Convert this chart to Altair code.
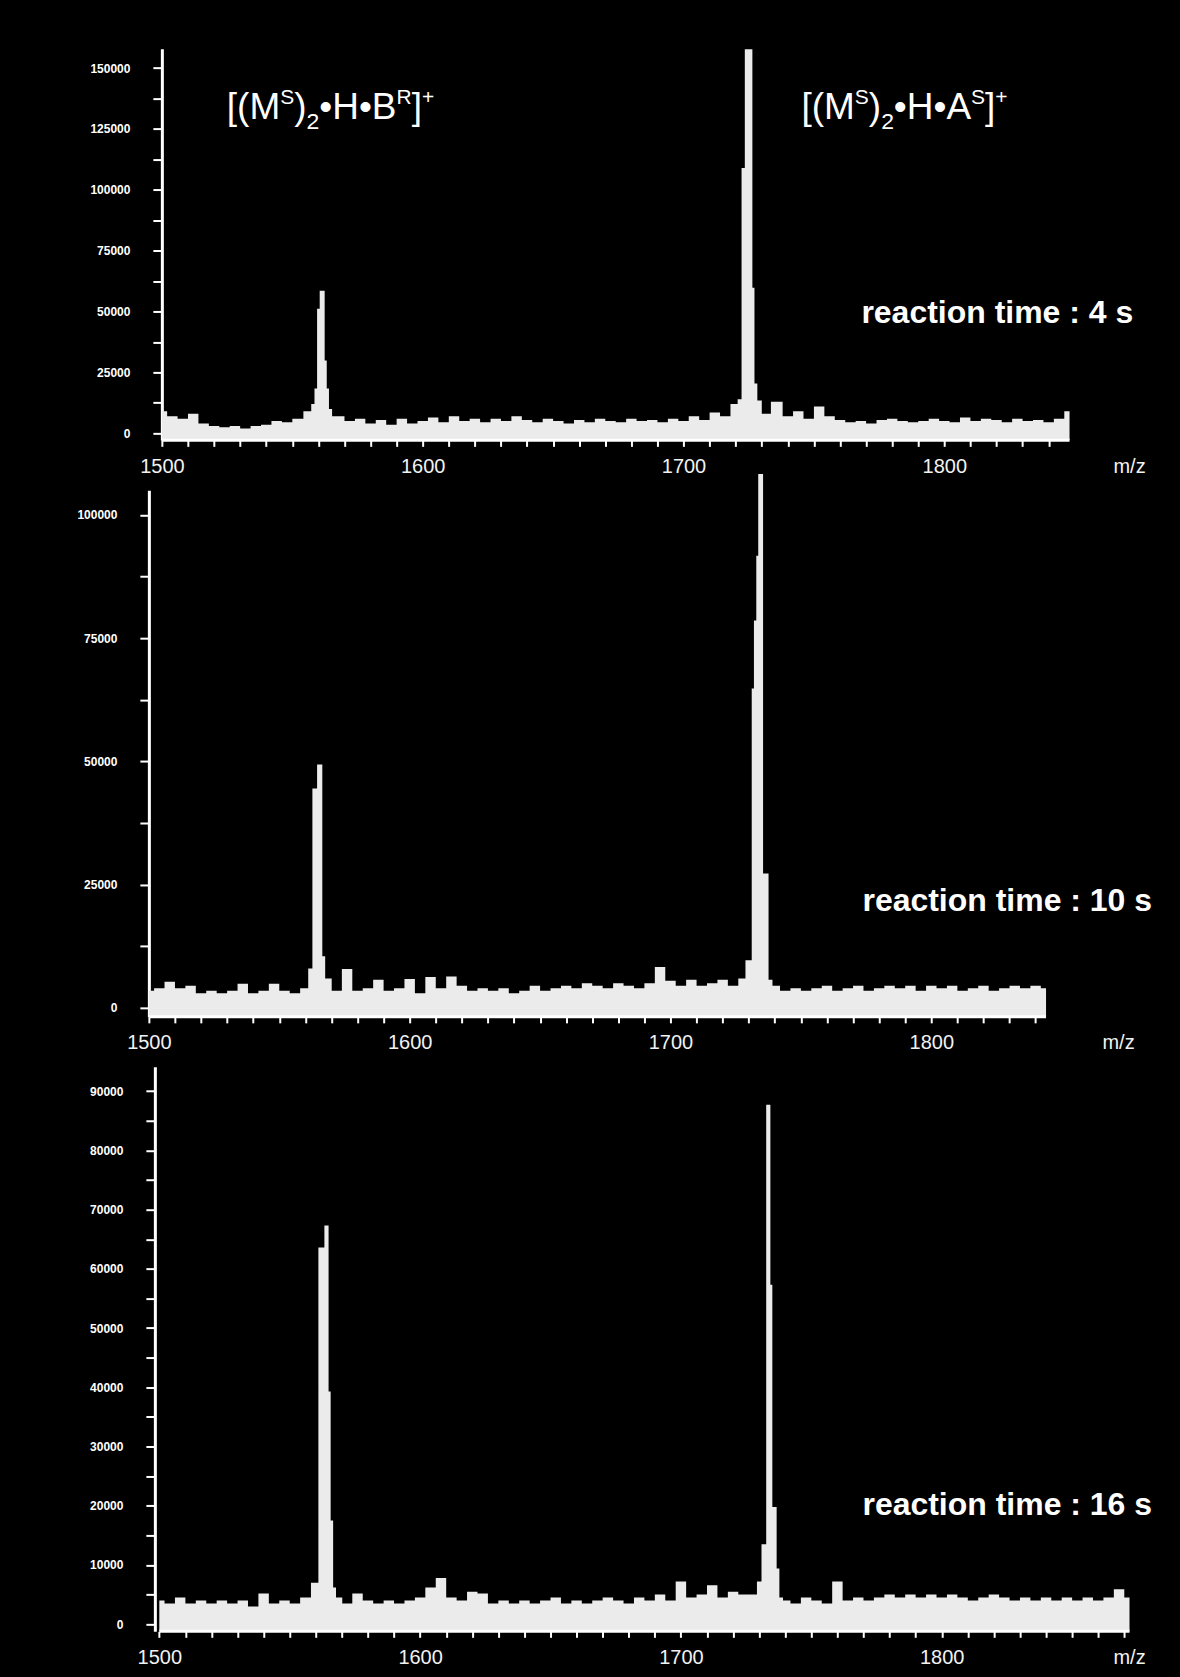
import altair as alt
import pandas as pd

# ---------------- data ----------------
# baseline noise envelope, sampled every 4 m/z from 1500, in thousands of counts
NOISE_START = 1500
NOISE_STEP = 4

P1_NOISE_K = [9, 7, 6, 8, 4, 3, 2.5, 3, 2, 3,
              3.5, 5, 4.5, 6, 8, 12, 11, 7, 5, 6,
              4, 5.5, 3.5, 6, 4, 5, 6.5, 4.5, 7, 5,
              6, 4.5, 6, 5, 7, 5.5, 4.5, 6, 5, 4,
              5.5, 4.5, 6, 5, 4.5, 6, 5, 5.5, 4.5, 6,
              5, 7, 5.5, 8.5, 7, 12, 14, 12, 9, 13,
              7, 9, 6, 11, 7, 5.5, 4.5, 5, 4, 5.5,
              6, 5, 4.5, 5, 6, 5, 4.5, 6.5, 5, 6,
              5.5, 4.5, 6, 5, 5.5, 4.5, 6, 9]
P1_PEAK_B_MZ = [1556.5, 1558.0, 1559.0, 1560.0, 1561.0, 1562.0, 1562.8, 1563.6, 1564.5, 1566.0]
P1_PEAK_B_I = [9000, 12000, 18400, 51200, 58600, 58600, 29900, 18400, 10000, 7000]
P1_PEAK_A_MZ = [1720.0, 1721.5, 1723.0, 1724.0, 1725.0, 1726.0, 1726.8, 1727.6, 1729.0, 1731.0]
P1_PEAK_A_I = [12000, 14000, 109000, 157800, 157800, 157800, 59800, 20500, 13500, 8000]

P2_NOISE_K = [3.5, 4, 5.3, 4, 4.5, 3, 3.5, 3, 3.5, 4.9,
              3, 3.5, 4.9, 3.5, 3, 4, 4, 4.5, 3.5, 7.9,
              3.5, 4, 5.7, 3.5, 4, 5.9, 3, 6.3, 4, 6.4,
              4.5, 3.5, 4, 3.5, 4, 3, 3.5, 4.5, 3.5, 4,
              4.5, 4, 5, 4.5, 4, 5, 4.5, 4, 5, 8.3,
              5.5, 4.5, 5.7, 4.5, 5, 5.7, 4.5, 6, 6, 6,
              4.5, 3.5, 4, 3.5, 4, 4.5, 3.5, 4, 4.5, 3.5,
              4, 4.5, 4, 4.5, 3.5, 4.5, 4, 4.5, 3.5, 4,
              4.5, 3.5, 4, 4.5, 4, 4.5, 4]
P2_PEAK_B_MZ = [1562.2, 1563.2, 1564.0, 1565.0, 1566.0, 1567.0, 1568.2]
P2_PEAK_B_I = [8000, 44500, 44500, 49400, 49400, 10500, 6000]
P2_PEAK_A_MZ = [1729.5, 1730.8, 1731.5, 1732.5, 1733.3, 1734.0, 1735.0, 1736.0, 1737.0, 1738.2]
P2_PEAK_A_I = [9700, 9700, 64800, 78600, 91700, 108300, 108300, 27300, 27300, 5700]

P3_NOISE_K = [4, 3.5, 4.5, 3.5, 4, 3.5, 4, 3.5, 4, 3,
              5.2, 3.5, 4, 3.5, 4.5, 5, 5, 4.5, 3.5, 5.2,
              4, 3.5, 4, 3.5, 4, 4.5, 6.2, 7.8, 4.5, 4,
              5.5, 5.2, 3.5, 4, 3.5, 4, 3.5, 4, 4.5, 3.5,
              4, 3.5, 4, 4.5, 4, 3.5, 4.5, 4, 5, 4,
              7.2, 4.5, 5, 6.6, 4.5, 5.5, 5, 5, 5, 5,
              4, 3.5, 4.5, 4, 3.5, 7.2, 4, 4.5, 4, 4.5,
              5, 4.5, 5, 4.5, 5, 4.5, 5, 4.5, 4, 4.5,
              5, 4.5, 4, 4.5, 4, 4.5, 4, 4.5, 4, 4.5,
              4, 4.5, 5.9, 4.5]
P3_PEAK_B_MZ = [1560.3, 1561.7, 1562.9, 1563.7, 1564.5, 1565.3, 1566.1, 1567.2, 1568.3]
P3_PEAK_B_I = [7000, 63600, 63600, 67300, 67300, 39300, 17500, 6200, 4500]
P3_PEAK_A_MZ = [1730.3, 1731.5, 1732.3, 1733.1, 1733.9, 1734.7, 1735.4, 1736.2, 1737.2, 1738.3]
P3_PEAK_A_I = [7200, 13500, 13500, 87700, 87700, 57300, 19800, 19800, 9400, 4500]

REACTION_LABELS = ["reaction time : 4 s", "reaction time : 10 s", "reaction time : 16 s"]
ION_B = [("[(M", "main"), ("S", "sup"), (")", "main"), ("2", "sub"),
         ("\u2022H\u2022B", "main"), ("R", "sup"), ("]", "main"), ("+", "sup")]
ION_A = [("[(M", "main"), ("S", "sup"), (")", "main"), ("2", "sub"),
         ("\u2022H\u2022A", "main"), ("S", "sup"), ("]", "main"), ("+", "sup")]

# ---------------- styling ----------------
FONT = "Liberation Sans"
WHITE = "#ffffff"
TRACE = "#ebebeb"
ROLE = {"main": (37, 0), "sup": (21, -15), "sub": (23, 10)}
ARIAL_W = {"[": 0.278, "(": 0.333, "M": 0.833, "S": 0.667, ")": 0.333, "2": 0.556,
           "\u2022": 0.35, "H": 0.722, "B": 0.667, "A": 0.667, "R": 0.722,
           "]": 0.278, "+": 0.584}
PLOT_W = 1012


def spectrum(noise_k, peaks):
    ranges = [(min(m), max(m)) for m, _ in peaks]
    rows = []
    for i, v in enumerate(noise_k):
        mz = NOISE_START + i * NOISE_STEP
        if any(lo - 1 <= mz <= hi + 1 for lo, hi in ranges):
            continue
        rows.append((mz, v * 1000))
    for m, ints in peaks:
        rows.extend(zip(m, ints))
    rows.sort()
    return pd.DataFrame(rows, columns=["mz", "intensity"])


def make_panel(df, xdom, ydom, height, yoff, ymajor, ymax_label, xtick_end,
               title_x, ions, reaction):
    x = alt.X("mz:Q", scale=alt.Scale(domain=xdom, nice=False, zero=False),
              axis=alt.Axis(values=list(range(1500, xtick_end + 1, 10)), format="d",
                            labelExpr="datum.value % 100 === 0 ? datum.label : ''",
                            labelOverlap=False, labelFlush=False, domain=False, grid=False,
                            tickColor=WHITE, tickSize=6, tickWidth=2,
                            labelColor="#f2f2f2", labelFont=FONT, labelFontSize=20,
                            labelBaseline="middle", labelPadding=20,
                            title="m/z", titleFont=FONT, titleFontSize=20,
                            titleFontWeight="normal", titleColor="#f2f2f2",
                            titleX=title_x, titleY=26, titleAlign="center",
                            titleBaseline="middle"))
    half = ymajor // 2
    y = alt.Y("intensity:Q", scale=alt.Scale(domain=ydom, nice=False, zero=False),
              axis=alt.Axis(values=list(range(0, ymax_label + 1, half)), format="d",
                            labelExpr=f"datum.value % {ymajor} === 0 ? datum.label : ''",
                            labelOverlap=False, domainColor=WHITE, domainWidth=3,
                            grid=False, tickColor=WHITE, tickSize=9, tickWidth=2,
                            labelColor=WHITE, labelFont=FONT, labelFontSize=12,
                            labelFontWeight="bold", labelPadding=23, title=None,
                            offset=yoff))

    area = alt.Chart(df).mark_area(interpolate="step", color=TRACE).encode(
        x=x, y=y, y2=alt.datum(ydom[0]))
    base_df = pd.DataFrame({"mz": [df.mz.min()], "mz_end": [df.mz.max()],
                            "intensity": [ydom[0]]})
    rule = alt.Chart(base_df).mark_rule(color=WHITE, strokeWidth=3).encode(
        x=x, x2="mz_end:Q", y=y)

    layers = [area, rule]
    for (amz, aint, parts) in ions:
        dx = 0.0
        for s, role in parts:
            size, dy = ROLE[role]
            d = pd.DataFrame({"mz": [amz], "intensity": [aint], "t": [s]})
            layers.append(alt.Chart(d).mark_text(
                align="left", baseline="alphabetic", dx=round(dx, 1), dy=dy,
                fontSize=size, font=FONT, color=WHITE).encode(x=x, y=y, text="t:N"))
            dx += sum(ARIAL_W[c] for c in s) * size
    rtext, rmz, rint = reaction
    rd = pd.DataFrame({"mz": [rmz], "intensity": [rint], "t": [rtext]})
    layers.append(alt.Chart(rd).mark_text(
        align="left", baseline="alphabetic", fontSize=32, fontWeight="bold",
        font=FONT, color=WHITE).encode(x=x, y=y, text="t:N"))
    return alt.layer(*layers).properties(width=PLOT_W, height=height)


df1 = spectrum(P1_NOISE_K, [(P1_PEAK_B_MZ, P1_PEAK_B_I), (P1_PEAK_A_MZ, P1_PEAK_A_I)])
df2 = spectrum(P2_NOISE_K, [(P2_PEAK_B_MZ, P2_PEAK_B_I), (P2_PEAK_A_MZ, P2_PEAK_A_I)])
df3 = spectrum(P3_NOISE_K, [(P3_PEAK_B_MZ, P3_PEAK_B_I), (P3_PEAK_A_MZ, P3_PEAK_A_I)])

p1 = make_panel(df1, [1495, 1882.7], [-2900, 158000], 392, -13, 25000, 150000, 1840, 981,
                [(1524.9, 129100, ION_B), (1745.2, 129100, ION_A)],
                (REACTION_LABELS[0], 1768.2, 45100))
p2 = make_panel(df2, [1500, 1887.7], [-1800, 105000], 527, 0, 25000, 100000, 1840, 970,
                [], (REACTION_LABELS[1], 1773.6, 19630))
p3 = make_panel(df3, [1496, 1883.7], [-1200, 94100], 565, -6, 10000, 90000, 1870, 981,
                [], (REACTION_LABELS[2], 1769.6, 18380))

chart = alt.vconcat(p1, p2, p3, spacing=50, bounds="flush").properties(
    background="black",
    padding={"left": 76, "top": 48, "right": 20, "bottom": 12},
).configure_view(stroke=None)

chart.save("out.html", embed_options={"renderer": "svg", "actions": False})
